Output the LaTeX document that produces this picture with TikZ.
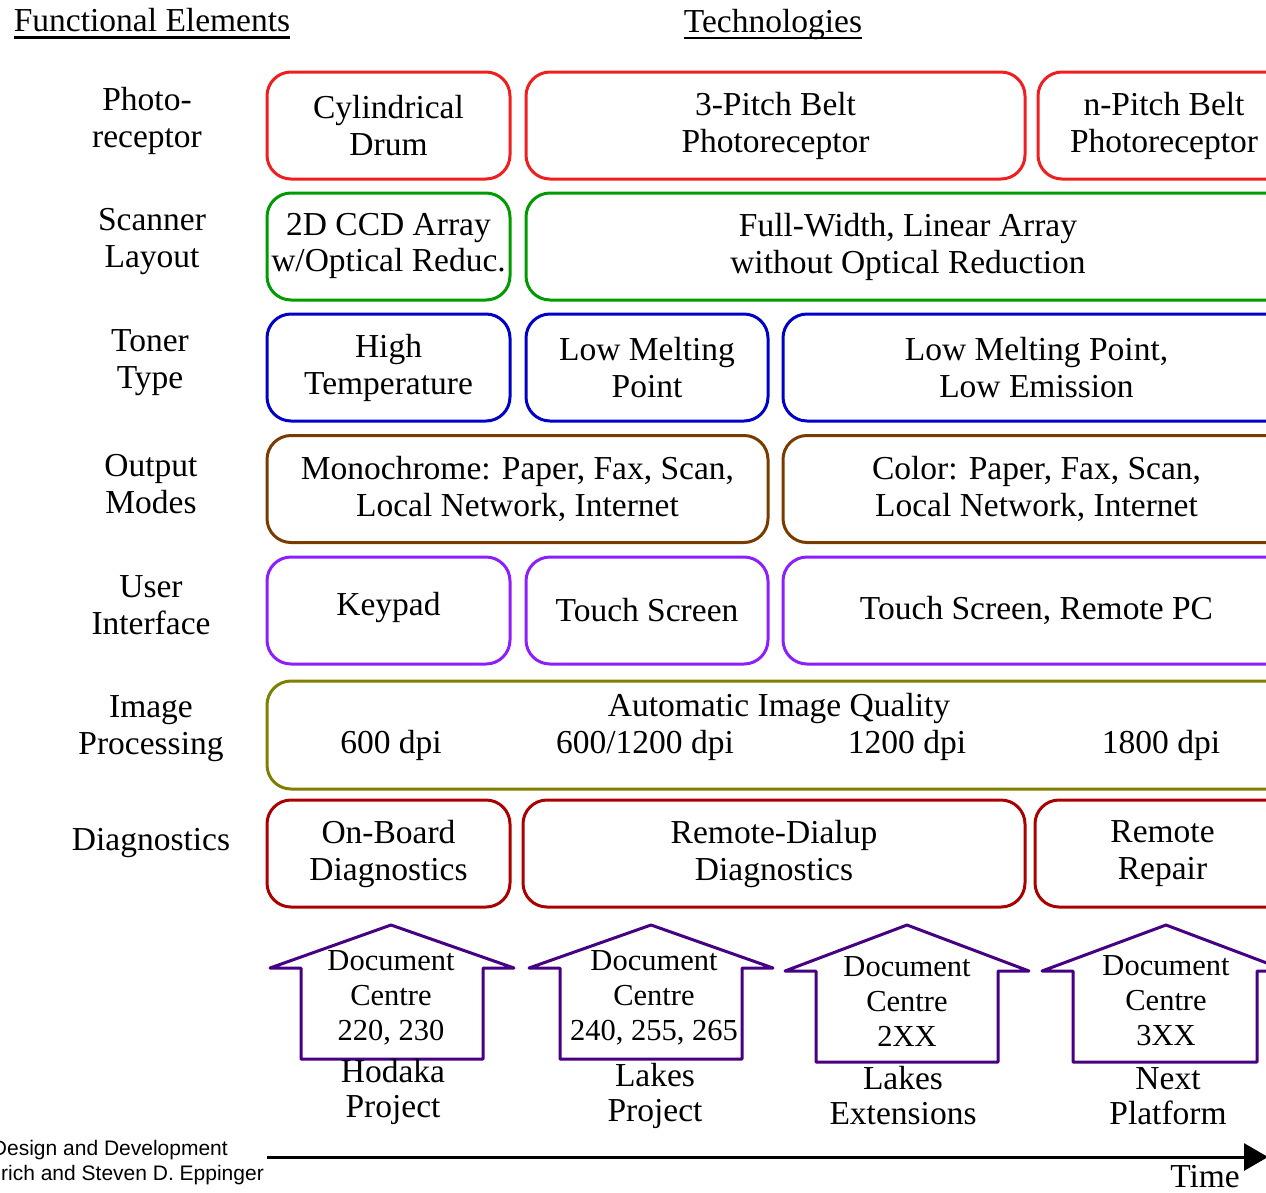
\documentclass[tikz,border=0pt]{standalone}
\usepackage{fontspec}
\setmainfont{Liberation Serif}
\newfontfamily\arialfont{Liberation Sans}
\usetikzlibrary{arrows.meta}
\definecolor{cRed}{RGB}{240,30,30}
\definecolor{cGreen}{RGB}{0,155,0}
\definecolor{cBlue}{RGB}{0,0,200}
\definecolor{cBrown}{RGB}{120,60,0}
\definecolor{cViolet}{RGB}{140,30,255}
\definecolor{cOlive}{RGB}{128,128,0}
\definecolor{cDarkRed}{RGB}{170,0,0}
\definecolor{cIndigo}{RGB}{70,0,130}
\begin{document}
\begin{tikzpicture}[x=1pt,y=-1pt,
  tbox/.style={draw=#1, line width=3pt, rounded corners=24pt, inner sep=0pt, align=center,
    minimum height=107pt, font=\fontsize{33.5}{37}\selectfont},
  lab/.style={align=center, inner sep=0pt, font=\fontsize{33.5}{37}\selectfont},
  hlab/.style={align=center, inner sep=0pt, font=\fontsize{33.5}{35}\selectfont},
  alab/.style={align=center, inner sep=0pt, font=\fontsize{30.5}{35}\selectfont},
  head/.style={inner sep=0pt, font=\fontsize{33.5}{37}\selectfont},
  house/.style={draw=cIndigo, line width=3pt, line join=round},
  small/.style={anchor=east, inner sep=0pt, font=\arialfont\fontsize{21}{24}\selectfont}
]
\useasboundingbox (0,0) rectangle (1266,1192);
\clip (0,0) rectangle (1266,1192);

% headers
\node[head] (fe) at (152,20) {Functional Elements};
\draw[line width=2.5pt] ([yshift=-6pt]fe.base west) -- ([yshift=-6pt]fe.base east);
\node[head] (te) at (773,24) {Technologies};
\draw[line width=2.5pt] ([yshift=-6pt]te.base west) -- ([yshift=-6pt]te.base east);

% row labels
\node[lab] (l1) at (147,121) {Photo-\\receptor};
\node[lab] (l2) at (152,242) {Scanner\\Layout};
\node[lab] (l3) at (150,363) {Toner\\Type};
\node[lab] (l4) at (151,484) {Output\\Modes};
\node[lab] (l5) at (151,605) {User\\Interface};
\node[lab] (l6) at (151,729) {Image\\Processing};
\node[lab] (l7) at (151,843) {Diagnostics};

% row 1
\node[tbox=cRed, minimum width=243pt] (r1a) at (388.5,125.5) {Cylindrical\\Drum};
\node[tbox=cRed, minimum width=499pt] (r1b) at (775.5,125.5) {3-Pitch Belt\\Photoreceptor};
\node[tbox=cRed, minimum width=252pt] (r1c) at (1164,125.5) {n-Pitch Belt\\Photoreceptor};
% row 2
\node[tbox=cGreen, minimum width=243pt] (r2a) at (388.5,246.5) {\raisebox{8pt}{\shortstack{2D CCD Array\\[3pt]w/Optical Reduc.}}};
\node[tbox=cGreen, minimum width=764pt] (r2b) at (908,246.5) {Full-Width, Linear Array\\without Optical Reduction};
% row 3
\node[tbox=cBlue, minimum width=243pt] (r3a) at (388.5,367.5) {High\\Temperature};
\node[tbox=cBlue, minimum width=242pt] (r3b) at (647,367.5) {Low Melting\\Point};
\node[tbox=cBlue, minimum width=507pt] (r3c) at (1036.5,367.5) {Low Melting Point,\\Low Emission};
% row 4
\node[tbox=cBrown, minimum width=501pt] (r4a) at (517.5,489) {Monochrome: Paper, Fax, Scan,\\Local Network, Internet};
\node[tbox=cBrown, minimum width=507pt] (r4b) at (1036.5,489) {Color: Paper, Fax, Scan,\\Local Network, Internet};
% row 5
\node[tbox=cViolet, minimum width=243pt] (r5a) at (388.5,610.5) {\raisebox{14pt}{Keypad}};
\node[tbox=cViolet, minimum width=242pt] (r5b) at (647,610.5) {Touch Screen};
\node[tbox=cViolet, minimum width=507pt] (r5c) at (1036.5,610.5) {Touch Screen, Remote PC};
% row 6
\node[tbox=cOlive, minimum width=1023pt, minimum height=108pt] (r6) at (778.5,735) {};
\node[lab] (aiq) at (779,708) {Automatic Image Quality};
\node[lab] (d1) at (391,745) {600 dpi};
\node[lab] (d2) at (645,745) {600/1200 dpi};
\node[lab] (d3) at (907,745) {1200 dpi};
\node[lab] (d4) at (1161,745) {1800 dpi};
% row 7
\node[tbox=cDarkRed, minimum width=243pt] (r7a) at (388.5,853.5) {On-Board\\Diagnostics};
\node[tbox=cDarkRed, minimum width=502pt] (r7b) at (774,853.5) {Remote-Dialup\\Diagnostics};
\node[tbox=cDarkRed, minimum width=255pt] (r7c) at (1162.5,853.5) {Remote\\Repair};

% house arrows
\draw[house] (391,925) -- (514,968) -- (483,968) -- (483,1059) -- (301,1059) -- (301,968) -- (270,968) -- cycle;
\node[alab] (h1) at (391,998) {Document\\Centre\\220, 230};
\node[hlab] (p1) at (393,1092) {Hodaka\\Project};

\draw[house] (651,925) -- (773,968) -- (742,968) -- (742,1059) -- (560,1059) -- (560,968) -- (529,968) -- cycle;
\node[alab] (h2) at (654,998) {Document\\Centre\\240, 255, 265};
\node[hlab] (p2) at (655,1096) {Lakes\\Project};

\draw[house] (907,925) -- (1029,971) -- (998,971) -- (998,1062) -- (816,1062) -- (816,971) -- (785,971) -- cycle;
\node[alab] (h3) at (907,1001) {Document\\Centre\\2XX};
\node[hlab] (p3) at (903,1096) {Lakes\\Extensions};

\draw[house] (1166,925) -- (1288,971) -- (1257,971) -- (1257,1062) -- (1073,1062) -- (1073,971) -- (1042,971) -- cycle;
\node[alab] (h4) at (1166,1001) {Document\\Centre\\3XX};
\node[hlab] (p4) at (1168,1096) {Next\\Platform};

% time axis
\coordinate (t0) at (267,1157);
\coordinate (t1) at (1268,1157);
\draw[line width=3pt, -{Triangle[length=24pt,width=27pt]}] (t0) -- (t1);
\node[lab] (time) at (1205,1177) {Time};

% credits
\node[small] (c1) at (228,1150) {Design and Development};
\node[small] (c2) at (264,1175) {rich and Steven D. Eppinger};
\end{tikzpicture}
\end{document}
